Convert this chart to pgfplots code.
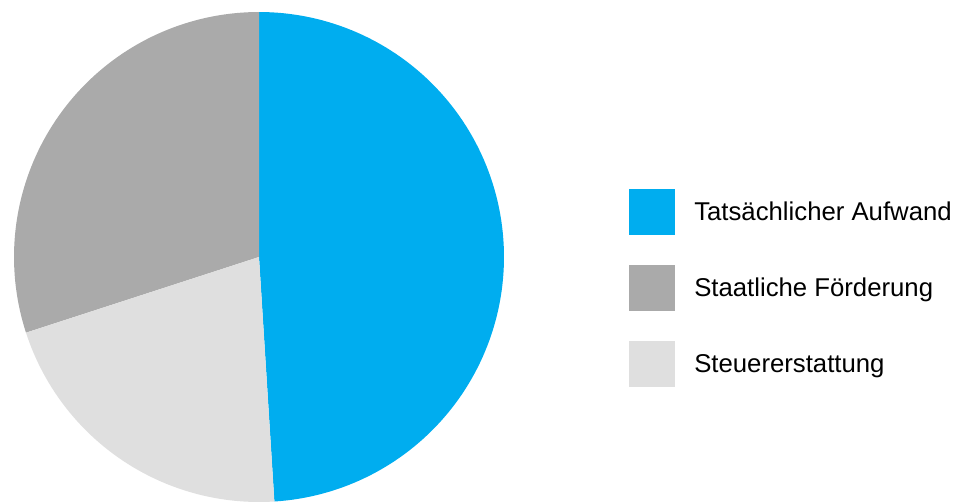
\documentclass[border=0pt]{standalone}
\usepackage{pgfplots}
\pgfplotsset{compat=1.18}
\usepackage{fontspec}
\setmainfont{Liberation Sans}
\definecolor{cblue}{RGB}{0,173,239}
\definecolor{cdark}{RGB}{170,170,170}
\definecolor{clight}{RGB}{223,223,223}
% shares in percent
\def\vA{49}% Tatsächlicher Aufwand
\def\vB{30}% Staatliche Förderung
\def\vC{21}% Steuererstattung
\begin{document}
\begin{tikzpicture}
\pgfmathsetmacro{\aStart}{90-\vA*3.6}
\pgfmathsetmacro{\bEnd}{90+\vB*3.6}
\pgfmathsetmacro{\cEnd}{\bEnd+\vC*3.6}
\begin{axis}[
  width=717pt, height=375.75pt, scale only axis,
  xmin=0, xmax=956, ymin=-501, ymax=0,
  hide axis, clip=false,
  legend image code/.code={\fill[#1] (0pt,-17.25pt) rectangle (34.5pt,17.25pt);},
  legend style={at={(axis cs:629,-189)}, anchor=north west, draw=none, fill=none,
    inner sep=0pt, row sep=22.5pt, font=\fontsize{19.3}{23}\selectfont,
    nodes={inner sep=0pt},
    /tikz/every odd column/.append style={column sep=14.25pt}},
  legend cell align=left,
]
\addplot[fill=cblue, draw=none, domain=\aStart:90, samples=120, variable=\t]
  ({259+245*cos(t)},{-257+245*sin(t)}) -- (axis cs:259,-257) -- cycle;
\addlegendentry{Tatsächlicher Aufwand}
\addplot[fill=cdark, draw=none, domain=90:\bEnd, samples=80, variable=\t]
  ({259+245*cos(t)},{-257+245*sin(t)}) -- (axis cs:259,-257) -- cycle;
\addlegendentry{Staatliche Förderung}
\addplot[fill=clight, draw=none, domain=\bEnd:\cEnd, samples=60, variable=\t]
  ({259+245*cos(t)},{-257+245*sin(t)}) -- (axis cs:259,-257) -- cycle;
\addlegendentry{Steuererstattung}
\end{axis}
\pgfresetboundingbox
\path[use as bounding box] (current axis.south west) rectangle (current axis.north east);
\end{tikzpicture}
\end{document}
